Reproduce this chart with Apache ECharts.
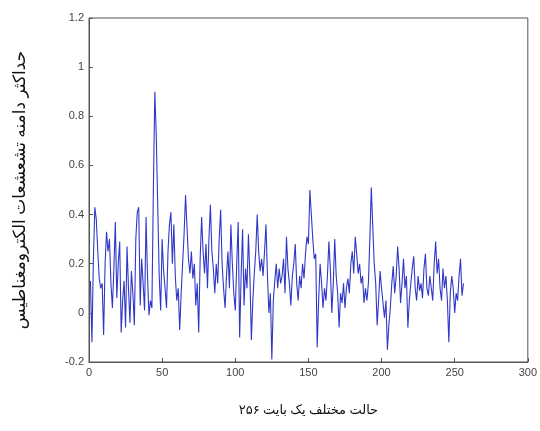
<!DOCTYPE html>
<html>
<head>
<meta charset="utf-8">
<script src="https://cdn.jsdelivr.net/npm/echarts@6/dist/echarts.min.js"></script>
<style>html,body{margin:0;padding:0;background:#fff;}#c{width:540px;height:431px;}</style>
</head>
<body>
<div id="c"></div>
<script>
var xTitle = '۲۵۶ حالت مختلف یک بایت';
var yTitle = 'حداکثر دامنه تشعشعات الکترومغناطیس';
var xTicks = [0, 50, 100, 150, 200, 250, 300];
var yTicks = [-0.2, 0, 0.2, 0.4, 0.6, 0.8, 1, 1.2];
var amplitudes = [
  0.13, -0.12, 0.22, 0.43, 0.38, 0.25, 0.14, 0.1, 0.12, -0.09,
  0.2, 0.33, 0.25, 0.3, 0.12, 0.02, 0.18, 0.37, 0.06, 0.2,
  0.29, -0.08, 0.05, 0.13, -0.06, 0.27, 0.1, -0.04, 0.17, 0.08,
  -0.05, 0.3, 0.41, 0.43, 0.03, 0.22, 0.12, 0.01, 0.39, 0.15,
  -0.01, 0.05, 0.02, 0.5, 0.9, 0.72, 0.43, 0.15, 0.01, 0.3,
  0.17, 0.1, 0.02, 0.25, 0.36, 0.41, 0.2, 0.36, 0.15, 0.05,
  0.1, -0.07, 0.08, 0.2, 0.32, 0.48, 0.35, 0.22, 0.16, 0.25,
  0.14, 0.2, 0.03, 0.12, -0.08, 0.22, 0.39, 0.25, 0.16, 0.28,
  0.1, 0.3, 0.44, 0.25, 0.18, 0.08, 0.2, 0.12, 0.3, 0.42,
  0.2, 0.1, 0.02, 0.15, 0.25, 0.1, 0.36, 0.2, 0.08, 0.01,
  0.2, 0.37, -0.1, 0.15, 0.34, 0.03, 0.18, 0.1, 0.32, 0.15,
  -0.11, 0.05, 0.16, 0.25, 0.4, 0.25, 0.17, 0.22, 0.15, 0.25,
  0.36, 0.15, 0.0, 0.08, -0.19, 0.05, 0.13, 0.2, 0.1, 0.18,
  0.12, 0.15, 0.22, 0.08, 0.31, 0.18, 0.12, 0.03, 0.15, 0.2,
  0.28, 0.12, 0.05, 0.15, 0.1, 0.2, 0.14, 0.24, 0.31, 0.28,
  0.5, 0.4, 0.3, 0.22, 0.24, -0.14, 0.05, 0.2, 0.12, 0.02,
  0.1, 0.05, 0.15, 0.29, 0.18, 0.0, 0.12, 0.3, 0.15, 0.08,
  -0.06, 0.08, 0.04, 0.12, 0.02, 0.1, 0.14, 0.08, 0.2, 0.25,
  0.16, 0.31, 0.24, 0.16, 0.2, 0.12, 0.15, 0.04, 0.1, 0.05,
  0.12, 0.3, 0.51, 0.35, 0.2, 0.12, -0.05, 0.05, 0.17, 0.1,
  0.1, -0.02, 0.05, -0.15, -0.05, 0.02, 0.12, 0.19, 0.08, 0.15,
  0.27, 0.18, 0.04, 0.12, 0.22, 0.1, 0.15, -0.06, 0.05, 0.12,
  0.18, 0.23, 0.1, 0.05, 0.15, 0.09, 0.12, 0.06, 0.18, 0.24,
  0.1, 0.07, 0.15, 0.1, 0.05, 0.2, 0.29, 0.16, 0.22, 0.1,
  0.05, 0.18, 0.1, 0.15, 0.05, -0.12, 0.08, 0.15, 0.1, 0.0,
  0.08, 0.05, 0.15, 0.22, 0.07, 0.12
];
var points = amplitudes.map(function (v, i) { return [i + 1, v]; });

var chart = echarts.init(document.getElementById('c'), null, {renderer: 'canvas'});
var labelStyle = {color: '#444', fontFamily: 'Liberation Sans, Arial, sans-serif', fontSize: 11};
chart.setOption({
  animation: false,
  backgroundColor: '#fff',
  grid: {left: 89, right: 12, top: 18, bottom: 69, show: true, borderColor: '#555', borderWidth: 1, backgroundColor: '#fff'},
  xAxis: {
    type: 'value', min: xTicks[0], max: xTicks[xTicks.length - 1], interval: 50,
    name: xTitle, nameLocation: 'middle', nameGap: 42,
    nameTextStyle: {color: '#111', fontFamily: 'Noto Sans, DejaVu Sans, sans-serif', fontSize: 13},
    axisLine: {show: true, onZero: false, lineStyle: {color: '#555'}},
    axisTick: {show: true, inside: true, length: 4, lineStyle: {color: '#555'}},
    axisLabel: Object.assign({margin: 5}, labelStyle),
    splitLine: {show: false}
  },
  yAxis: {
    type: 'value', min: yTicks[0], max: yTicks[yTicks.length - 1], interval: 0.2,
    name: yTitle, nameLocation: 'middle', nameGap: 60, nameRotate: 90,
    nameTextStyle: {color: '#111', fontFamily: 'Noto Sans, DejaVu Sans, sans-serif', fontSize: 17},
    axisLine: {show: true, onZero: false, lineStyle: {color: '#555'}},
    axisTick: {show: true, inside: true, length: 4, lineStyle: {color: '#555'}},
    axisLabel: Object.assign({margin: 5, formatter: function (v) { return String(Math.round(v * 10) / 10); }}, labelStyle),
    splitLine: {show: false}
  },
  series: [{
    type: 'line', data: points, showSymbol: false, symbol: 'none',
    lineStyle: {color: '#3038c8', width: 1.1}
  }]
});
</script>
</body>
</html>
